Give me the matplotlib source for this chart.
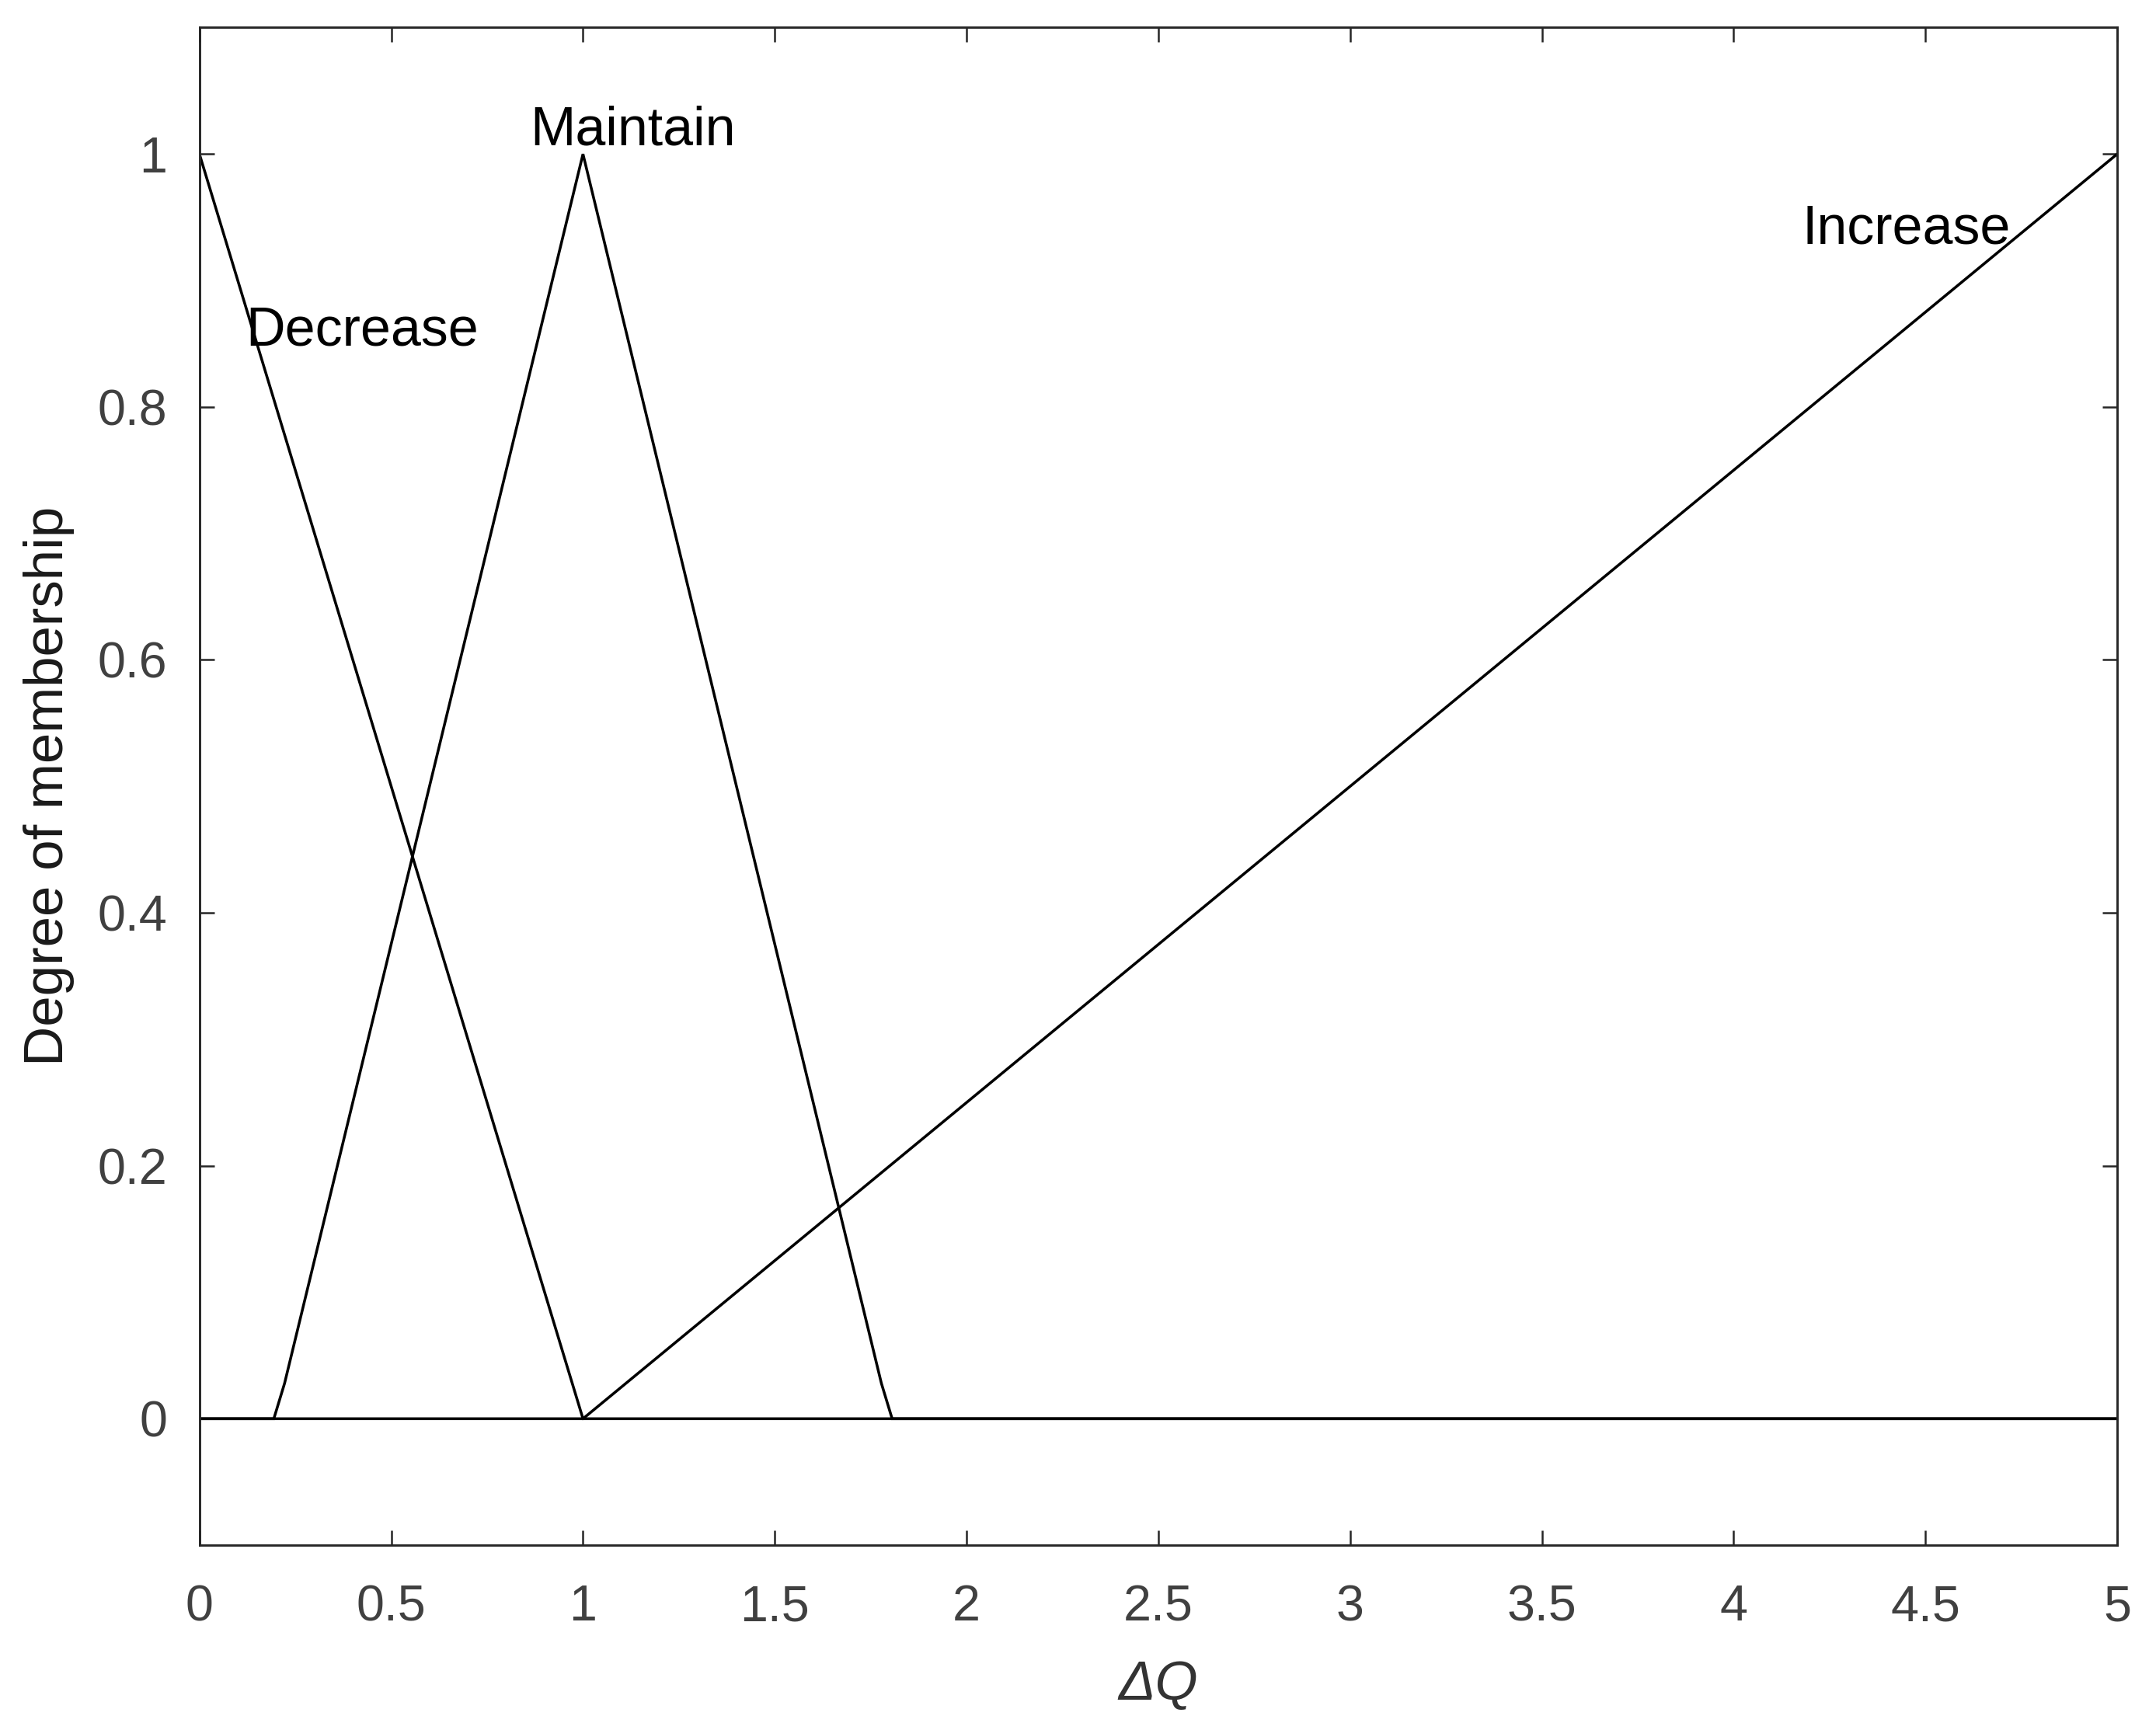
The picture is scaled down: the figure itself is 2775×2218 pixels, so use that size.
import matplotlib.pyplot as plt

plt.rcParams['font.family'] = ['Liberation Sans', 'DejaVu Sans']

# membership function vertices
dec_x = [0.0, 1.0, 5.0]
dec_y = [1.0, 0.0, 0.0]
mnt_x = [0.0, 0.194, 0.222, 1.0, 1.778, 1.806, 5.0]
mnt_y = [0.0, 0.0, 0.028, 1.0, 0.028, 0.0, 0.0]
inc_x = [0.0, 1.0, 5.0]
inc_y = [0.0, 0.0, 1.0]

labels = ["Decrease", "Maintain", "Increase"]
label_x = [0.425, 1.13, 4.45]
label_y = [0.86, 1.018, 0.94]

xticks = [0, 0.5, 1, 1.5, 2, 2.5, 3, 3.5, 4, 4.5, 5]
yticks = [0, 0.2, 0.4, 0.6, 0.8, 1]

fig = plt.figure(figsize=(9.25, 2218 / 300))
ax = fig.add_axes([0.0925, 0.1032, 0.982 - 0.0925, 0.984 - 0.1032])

for xs, ys in [(dec_x, dec_y), (mnt_x, mnt_y), (inc_x, inc_y)]:
    ax.plot(xs, ys, color='black', lw=0.85, solid_joinstyle='miter')

for t, x, y in zip(labels, label_x, label_y):
    ax.text(x, y, t, ha='center', va='center', fontsize=16.8, color='black')

ax.set_xlim(0, 5)
ax.set_ylim(-0.1, 1.1)
ax.set_xticks(xticks)
ax.set_xticklabels(['0', '0.5', '1', '1.5', '2', '2.5', '3', '3.5', '4', '4.5', '5'])
ax.set_yticks(yticks)
ax.set_yticklabels(['0', '0.2', '0.4', '0.6', '0.8', '1'])
ax.tick_params(direction='in', top=True, right=True, length=4.5, width=0.6,
               color='#262626', labelcolor='#404040', labelsize=15.5)
ax.tick_params(axis='x', pad=12)
ax.tick_params(axis='y', pad=10)
for s in ax.spines.values():
    s.set_linewidth(0.7)
    s.set_color('#262626')

ax.set_xlabel('ΔQ', fontsize=17, fontstyle='italic', color='#333333', labelpad=9)
ax.set_ylabel('Degree of membership', fontsize=17, color='#1a1a1a', labelpad=7)

fig.savefig('out.png', dpi=300)
